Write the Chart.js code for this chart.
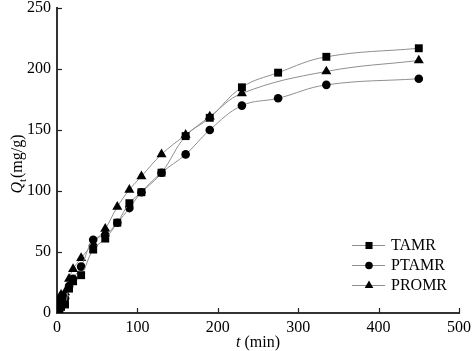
<!DOCTYPE html>
<html>
<head>
<meta charset="utf-8">
<script src="https://cdn.jsdelivr.net/npm/chart.js@4/dist/chart.umd.min.js"></script>
<style>
  html, body { margin: 0; padding: 0; background: #fff; }
  #wrap { width: 472px; height: 351px; }
</style>
</head>
<body>
<div id="wrap"><canvas id="c" width="472" height="351"></canvas></div>
<script>
  // values (t in min, Qt in mg/g)
  var timesTAMR = [3, 5, 10, 15, 20, 30, 45, 60, 75, 90, 105, 130, 160, 190, 230, 275, 335, 450];
  var valuesTAMR = [2, 5, 7, 20, 26, 31, 52, 61, 74, 90, 99, 115, 145, 160, 185, 197, 210, 217];
  var timesPTAMR = [3, 5, 10, 15, 20, 30, 45, 60, 75, 90, 105, 130, 160, 190, 230, 275, 335, 450];
  var valuesPTAMR = [8, 10, 12, 22, 28, 38, 60, 64, 74, 86, 99, 115, 130, 150, 170, 176, 187, 192];
  var timesPROMR = [3, 5, 10, 15, 20, 30, 45, 60, 75, 90, 105, 130, 160, 190, 230, 335, 450];
  var valuesPROMR = [12, 15, 17, 28, 36, 45, 57, 69, 87, 101, 112, 130, 146, 161, 180, 198, 207];
  var xTicks = [0, 100, 200, 300, 400, 500];
  var yTicks = [0, 50, 100, 150, 200, 250];

  function pts(ts, vs) {
    return ts.map(function (t, i) { return { x: t, y: vs[i] }; });
  }

  var font = '"Liberation Serif", "Times New Roman", serif';

  function series(label, ts, vs, style, r) {
    return {
      label: label,
      data: pts(ts, vs),
      borderColor: '#8f8f8f',
      borderWidth: 1,
      backgroundColor: '#000',
      pointBackgroundColor: '#000',
      pointBorderColor: '#000',
      pointBorderWidth: 0,
      pointStyle: style,
      pointRadius: r,
      tension: 0.4,
      fill: false
    };
  }

  function marker(ctx, style, x, y, r) {
    ctx.beginPath();
    if (style === 'rect') {
      var s = r * Math.SQRT1_2;
      ctx.rect(x - s, y - s, 2 * s, 2 * s);
    } else if (style === 'circle') {
      ctx.arc(x, y, r, 0, Math.PI * 2);
    } else {
      ctx.moveTo(x, y - r);
      ctx.lineTo(x + r * 0.866, y + r * 0.5);
      ctx.lineTo(x - r * 0.866, y + r * 0.5);
      ctx.closePath();
    }
    ctx.fill();
  }

  var decor = {
    id: 'decor',
    afterDraw: function (chart) {
      var ctx = chart.ctx, a = chart.chartArea;
      var sx = chart.scales.x, sy = chart.scales.y;
      ctx.save();
      // inward ticks
      ctx.strokeStyle = '#222';
      ctx.lineWidth = 1.2;
      xTicks.forEach(function (v) {
        if (v === 0) return;
        var px = Math.round(sx.getPixelForValue(v)) + 0.5;
        ctx.beginPath(); ctx.moveTo(px, a.bottom); ctx.lineTo(px, a.bottom - 5); ctx.stroke();
      });
      yTicks.forEach(function (v) {
        if (v === 0) return;
        var py = Math.round(sy.getPixelForValue(v)) + 0.5;
        ctx.beginPath(); ctx.moveTo(a.left, py); ctx.lineTo(a.left + 5, py); ctx.stroke();
      });

      // x title: t (min)
      ctx.fillStyle = '#000';
      ctx.textBaseline = 'alphabetic';
      ctx.font = 'italic 16px ' + font;
      var w1 = ctx.measureText('t').width;
      ctx.font = '16px ' + font;
      var w2 = ctx.measureText(' (min)').width;
      var cx = (a.left + a.right) / 2;
      var x0 = cx - (w1 + w2) / 2;
      ctx.font = 'italic 16px ' + font;
      ctx.fillText('t', x0, 347);
      ctx.font = '16px ' + font;
      ctx.fillText(' (min)', x0 + w1, 347);

      // y title: Qt (mg/g)
      ctx.save();
      ctx.translate(22, (a.top + a.bottom) / 2 + 4);
      ctx.rotate(-Math.PI / 2);
      ctx.font = 'italic 16px ' + font;
      var q = ctx.measureText('Q').width;
      ctx.font = '11px ' + font;
      var t = ctx.measureText('t').width;
      ctx.font = '16px ' + font;
      var u = ctx.measureText('(mg/g)').width;
      var s0 = -(q + t + u) / 2;
      ctx.font = 'italic 16px ' + font;
      ctx.fillText('Q', s0, 0);
      ctx.font = '11px ' + font;
      ctx.fillText('t', s0 + q, 4);
      ctx.font = '16px ' + font;
      ctx.fillText('(mg/g)', s0 + q + t + 1, 0);
      ctx.restore();

      // legend
      var rows = [245, 265, 285];
      chart.data.datasets.forEach(function (ds, i) {
        var yy = rows[i] + 0.5;
        ctx.strokeStyle = '#8f8f8f';
        ctx.lineWidth = 1;
        ctx.beginPath(); ctx.moveTo(352, yy); ctx.lineTo(385, yy); ctx.stroke();
        ctx.fillStyle = '#000';
        marker(ctx, ds.pointStyle, 369, yy, ds.pointStyle === 'circle' ? 3.8 : 5);
        ctx.font = '16px ' + font;
        ctx.textBaseline = 'middle';
        ctx.fillText(ds.label, 391, rows[i] + 1);
      });
      ctx.restore();
    }
  };

  new Chart(document.getElementById('c').getContext('2d'), {
    type: 'line',
    data: {
      datasets: [
        series('TAMR', timesTAMR, valuesTAMR, 'rect', 5.6),
        series('PTAMR', timesPTAMR, valuesPTAMR, 'circle', 4.3),
        series('PROMR', timesPROMR, valuesPROMR, 'triangle', 5.8)
      ]
    },
    options: {
      responsive: false,
      animation: false,
      layout: { padding: { top: 8, right: 13, left: 0, bottom: 0 } },
      plugins: { legend: { display: false }, tooltip: { enabled: false } },
      scales: {
        x: {
          type: 'linear',
          min: 0, max: 500,
          afterBuildTicks: function (s) { s.ticks = xTicks.map(function (v) { return { value: v }; }); },
          afterFit: function (s) { s.height = 38; s.paddingLeft = 0; s.paddingRight = 0; },
          grid: { display: true, drawOnChartArea: false, drawTicks: false },
          border: { display: true, color: '#333', width: 2 },
          ticks: { color: '#000', padding: 5, font: { family: font, size: 16 }, maxRotation: 0 }
        },
        y: {
          type: 'linear',
          min: 0, max: 250,
          afterBuildTicks: function (s) { s.ticks = yTicks.map(function (v) { return { value: v }; }); },
          afterFit: function (s) { s.width = 57; s.paddingTop = 0; s.paddingBottom = 0; },
          grid: { display: true, drawOnChartArea: false, drawTicks: false },
          border: { display: true, color: '#333', width: 2 },
          ticks: { color: '#000', padding: 6, font: { family: font, size: 16 } }
        }
      }
    },
    plugins: [decor]
  });
</script>
</body>
</html>
